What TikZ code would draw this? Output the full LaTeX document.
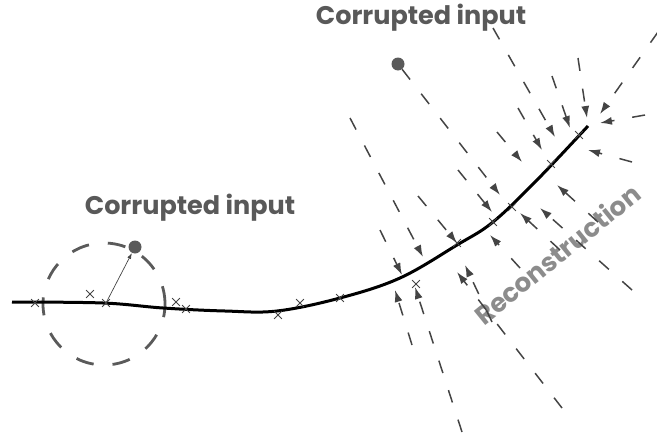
\documentclass[tikz,border=0pt]{standalone}
\usepackage{fontspec}
\newfontfamily\gothic{Poppins}
\usetikzlibrary{arrows.meta,shapes.misc}
\definecolor{txtgray}{HTML}{595959}
\definecolor{recgray}{HTML}{8C8C8C}
\definecolor{arrgray}{HTML}{444444}
\definecolor{circgray}{HTML}{5A5A5A}
\begin{document}
\begin{tikzpicture}[x=1pt,y=-1pt,
  corr/.style={font=\gothic\bfseries\fontsize{25.5}{28}\selectfont, text=txtgray, inner sep=0pt},
  recon/.style={font=\gothic\bfseries\fontsize{26}{28}\selectfont, text=recgray, inner sep=0pt},
  rarrow/.style={draw=arrgray, line width=1.5pt, dash pattern=on 13pt off 18pt, -{Latex[length=12pt,width=8pt]}},
  xmark/.style={cross out, draw=arrgray, line width=0.8pt, minimum size=7pt, inner sep=0pt},
  dotnode/.style={circle, fill=circgray, minimum size=13pt, inner sep=0pt},
  pt/.style={inner sep=0pt, outer sep=0pt}]
\useasboundingbox (0,0) rectangle (657,434);
% labels
\node[corr] (t1) at (421,18) {Corrupted input};
\node[corr] (t2) at (190,208) {Corrupted input};
\node[recon, rotate=39] (t3) at (557,254) {Reconstruction};
% circle
\node[circle, draw=circgray, line width=2.8pt, dash pattern=on 18pt off 19pt, minimum size=122pt, inner sep=0pt] (circ) at (104,304) {};
% manifold curve
\draw[line width=3pt, black] plot[smooth, tension=0.6] coordinates {(12,302) (103,303) (163,308) (225,311) (277,311) (340,298) (400,278) (457,245) (493,222) (537,180) (588,126)};
% crosses
\node[xmark] (x1) at (35,303) {};
\node[xmark] (x2) at (90,294) {};
\node[xmark] (x3) at (106,303) {};
\node[xmark] (x4) at (176,302) {};
\node[xmark] (x5) at (186,309) {};
\node[xmark] (x6) at (278,315) {};
\node[xmark] (x7) at (300,303) {};
\node[xmark] (x8) at (340,298) {};
\node[xmark] (x9) at (416,284) {};
\node[xmark] (x10) at (457,243) {};
\node[xmark] (x11) at (493,222) {};
\node[xmark] (x12) at (512,207) {};
\node[xmark] (x13) at (551,164) {};
\node[xmark] (x14) at (579,135) {};
% dots
\node[dotnode] (d1) at (135,247) {};
\node[dotnode] (d2) at (398,64) {};
\draw[draw=arrgray, line width=0.7pt, -{Latex[length=6pt,width=4pt]}] (x3.center) -- (d1);
% dashed reconstruction arrows: start -> tip
\foreach \n/\sx/\sy/\tx/\ty in {
  G/350/118/423/257, H/380/230/402/275, J/418/196/457/243, I/458/170/492/212,
  K2/497/132/522/162, K1/518/108/542/150, A/493/28/555/137, B/552/76/570/128,
  C/578/58/587/118, D/658/32/600/114, E/645/115/600/123, F/632/162/588/150,
  M/598/222/557/185, N1/632/290/540/208, N2/560/250/520/213, L4/520/268/490/235,
  L3/562/408/457/272, L3b/492/322/465/265, L2/462/432/415/287, L1/412/345/395/290}
{
  \coordinate (s\n) at (\sx,\sy);
  \coordinate (e\n) at (\tx,\ty);
  \draw[rarrow] (s\n) -- (e\n);
}
\coordinate (edot) at (500,195);
\draw[rarrow] (d2) -- (edot);
\end{tikzpicture}
\end{document}
